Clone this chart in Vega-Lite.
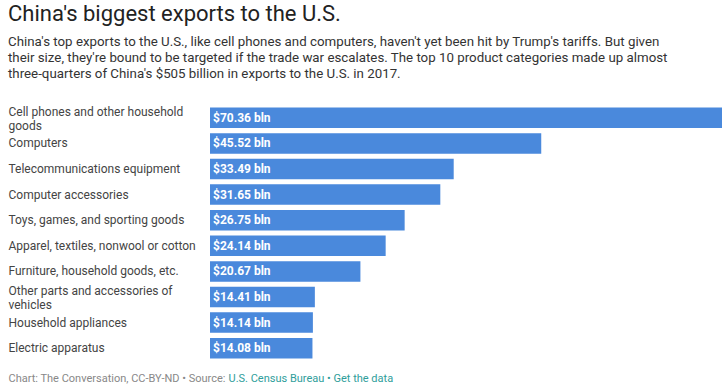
{
  "$schema": "https://vega.github.io/schema/vega-lite/v6.json",
  "width": 512,
  "height": 256,
  "autosize": {"type": "none"},
  "padding": {"left": 210, "top": 105, "right": 4, "bottom": 28},
  "background": "white",
  "title": {
    "text": "China's biggest exports to the U.S.",
    "subtitle": [
      "China's top exports to the U.S., like cell phones and computers, haven't yet been hit by Trump's tariffs. But given",
      "their size, they're bound to be targeted if the trade war escalates. The top 10 product categories made up almost",
      "three-quarters of China's $505 billion in exports to the U.S. in 2017."
    ],
    "anchor": "start",
    "frame": "group",
    "dx": -202,
    "offset": 24,
    "font": "Roboto",
    "fontSize": 22,
    "fontWeight": "normal",
    "color": "#222222",
    "subtitleFont": "Roboto",
    "subtitleFontSize": 13.3,
    "subtitleColor": "#333333",
    "subtitleLineHeight": 16,
    "subtitlePadding": 9
  },
  "data": {
    "values": [
      {"category": "Cell phones and other household goods", "value": 70.36, "label": "$70.36 bln"},
      {"category": "Computers", "value": 45.52, "label": "$45.52 bln"},
      {"category": "Telecommunications equipment", "value": 33.49, "label": "$33.49 bln"},
      {"category": "Computer accessories", "value": 31.65, "label": "$31.65 bln"},
      {"category": "Toys, games, and sporting goods", "value": 26.75, "label": "$26.75 bln"},
      {"category": "Apparel, textiles, nonwool or cotton", "value": 24.14, "label": "$24.14 bln"},
      {"category": "Furniture, household goods, etc.", "value": 20.67, "label": "$20.67 bln"},
      {"category": "Other parts and accessories of vehicles", "value": 14.41, "label": "$14.41 bln"},
      {"category": "Household appliances", "value": 14.14, "label": "$14.14 bln"},
      {"category": "Electric apparatus", "value": 14.08, "label": "$14.08 bln"}
    ]
  },
  "encoding": {
    "y": {
      "field": "category",
      "type": "nominal",
      "sort": null,
      "scale": {"paddingInner": 0.2, "paddingOuter": 0.1},
      "axis": {
        "title": "Chart: The Conversation, CC-BY-ND • Source:",
        "titleAngle": 0,
        "titleX": -202,
        "titleY": 276,
        "titleAlign": "left",
        "titleBaseline": "alphabetic",
        "titleFont": "Roboto",
        "titleFontSize": 11,
        "titleFontWeight": "normal",
        "titleColor": "#888888",
        "domain": false,
        "ticks": false,
        "tickSize": 0,
        "labelPadding": 202,
        "labelAlign": "left",
        "labelLimit": 200,
        "labelFont": "Roboto",
        "labelFontSize": 12,
        "labelColor": "#444444",
        "labelLineHeight": 14,
        "labelOffset": {
          "condition": {
            "test": "datum.value == 'Cell phones and other household goods' || datum.value == 'Other parts and accessories of vehicles'",
            "value": -6
          },
          "value": 0
        },
        "labelExpr": "datum.label == 'Cell phones and other household goods' ? ['Cell phones and other household', 'goods'] : datum.label == 'Other parts and accessories of vehicles' ? ['Other parts and accessories of', 'vehicles'] : datum.label"
      }
    }
  },
  "layer": [
    {
      "mark": {"type": "bar", "color": "#4a89dc"},
      "encoding": {
        "x": {
          "field": "value",
          "type": "quantitative",
          "scale": {"domain": [0, 70.36], "nice": false},
          "axis": {
            "orient": "bottom",
            "title": "U.S. Census Bureau • Get the data",
            "titleX": 18,
            "titleY": 20,
            "titleAlign": "left",
            "titleBaseline": "alphabetic",
            "titleFont": "Roboto",
            "titleFontSize": 11,
            "titleFontWeight": "normal",
            "titleColor": "#2f9e9b",
            "domain": false,
            "ticks": false,
            "labels": false,
            "grid": false
          }
        }
      }
    },
    {
      "mark": {"type": "text", "align": "left", "baseline": "middle", "dx": 3, "color": "white", "font": "Roboto", "fontSize": 12, "fontWeight": "bold"},
      "encoding": {
        "x": {"datum": 0, "type": "quantitative"},
        "text": {"field": "label"}
      }
    }
  ],
  "config": {"view": {"stroke": null}}
}
